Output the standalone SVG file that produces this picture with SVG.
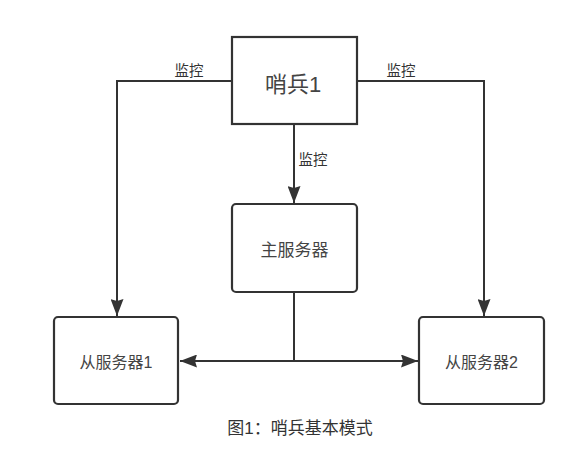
<svg xmlns="http://www.w3.org/2000/svg" width="581" height="457" viewBox="0 0 581 457">
<style>
.box{fill:#fff;stroke:#333;stroke-width:2.2}
.ln{fill:none;stroke:#333;stroke-width:2}
text{font-family:"Liberation Sans","Noto Sans CJK SC",sans-serif;fill:#444;text-anchor:middle}
.lbl{font-size:14.5px;fill:#333}
.nd{font-size:16px}
</style>
<defs>
<marker id="ah" markerWidth="17" markerHeight="13" refX="17" refY="6.5" orient="auto" markerUnits="userSpaceOnUse">
<path d="M0,0 L17,6.5 L0,13 L2,6.5 Z" fill="#333"/>
</marker>
</defs>
<rect width="581" height="457" fill="#fff"/>
<g id="connectors">
<path class="ln" d="M232,81 H117 V316" marker-end="url(#ah)"/>
<path class="ln" d="M357,81 H484 V316" marker-end="url(#ah)"/>
<path class="ln" d="M294,124 V203" marker-end="url(#ah)"/>
<path class="ln" d="M294,292 V361 H180" marker-end="url(#ah)"/>
<path class="ln" d="M294,361 H418" marker-end="url(#ah)"/>
<text class="lbl" x="189" y="76">监控</text>
<text class="lbl" x="401" y="76">监控</text>
<text class="lbl" x="313" y="165">监控</text>
</g>
<g id="sentinel1">
<rect class="box" x="232" y="37" width="125" height="87"/>
<text x="293" y="92" style="font-size:22px">哨兵1</text>
</g>
<g id="master">
<rect class="box" x="232" y="204" width="125" height="88" rx="4"/>
<text x="294.5" y="256" style="font-size:17px">主服务器</text>
</g>
<g id="slave1">
<rect class="box" x="54" y="317" width="124" height="87" rx="4"/>
<text class="nd" x="116" y="368">从服务器1</text>
</g>
<g id="slave2">
<rect class="box" x="419" y="317" width="125" height="87" rx="4"/>
<text class="nd" x="481.5" y="368">从服务器2</text>
</g>
<text x="300" y="434" style="font-size:17px;fill:#333">图1：哨兵基本模式</text>
</svg>
